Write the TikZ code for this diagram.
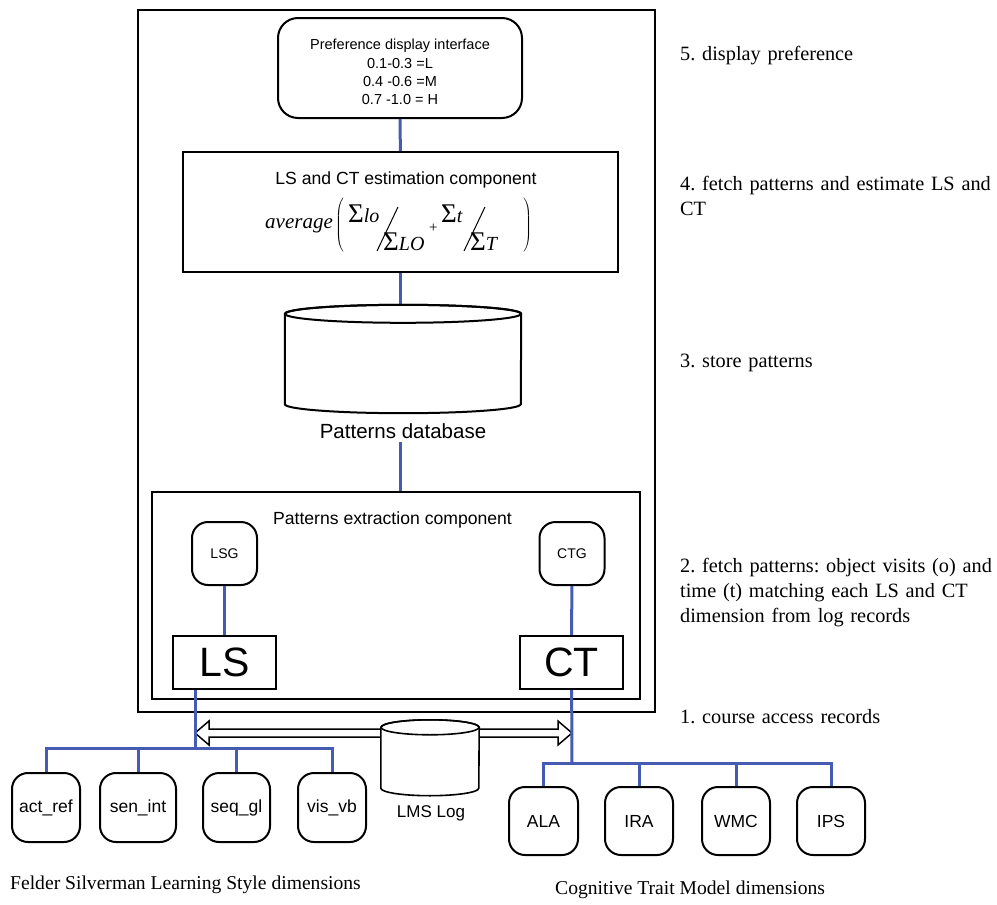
\documentclass[tikz,border=0pt]{standalone}
\usepackage{fontspec}
\setmainfont{Liberation Serif}
\setsansfont{Liberation Sans}
\usetikzlibrary{positioning}

\definecolor{linkblue}{RGB}{70,92,178}

\newcommand{\sumsign}{{\upshape\fontsize{27}{27}\selectfont Σ}}

\tikzset{
	frame/.style={draw, line width=2pt, inner sep=0pt},
	rframe/.style={frame, rounded corners=16pt},
	sans/.style={font=\sffamily\fontsize{#1}{#1}\selectfont},
	dimbox/.style={rframe, minimum height=69pt, sans=17.5},
	link/.style={draw=linkblue, line width=3pt},
	hollow/.style={draw, line width=1.5pt, fill=white, line join=miter},
	term/.style={anchor=base west, inner sep=0pt, font=\fontsize{20}{20}\selectfont\itshape},
	fracbar/.style={draw, line width=1pt},
	note/.style={anchor=base west, align=left, text width=330pt, inner sep=0pt, font=\frenchspacing\fontsize{20.3}{25}\selectfont},
	caption/.style={anchor=base west, inner sep=0pt, font=\fontsize{19.6}{22}\selectfont},
}

\begin{document}
\begin{tikzpicture}[x=1pt, y=-1pt]
	\useasboundingbox (0,0) rectangle (997,905);

	\node[frame, line width=2.4pt, minimum width=517pt, minimum height=702pt] (system) at (396.5,361) {};
	\node[rframe, rounded corners=20pt, minimum width=244pt, minimum height=100pt] (pref) at (400,68) {};
	\node[align=center, font=\sffamily\fontsize{14.5}{18.2}\selectfont] (preftext) at (400,72) {Preference display interface\\0.1-0.3 =L\\0.4 -0.6 =M\\0.7 -1.0 = H};
	\node[frame, minimum width=435pt, minimum height=120pt] (est) at (400.5,212) {};
	\node[sans=17.6] (esttitle) at (406,180) {LS and CT estimation component};

	\node[term, font=\fontsize{21}{21}\selectfont\itshape] (avg) at (265,228) {average};
	\node[anchor=base west, inner sep=0pt] (lpar) at (335,228) {$\left(\vrule height 31pt depth 25pt width 0pt\right.$};
	\node[term] (lo) at (348,222) {\sumsign lo};
	\node[term] (LO) at (383,250) {\sumsign LO};
	\node[anchor=base west, inner sep=0pt, font=\fontsize{15}{15}\selectfont] (plus) at (429,232) {+};
	\node[term] (t) at (441,222) {\sumsign t};
	\node[term] (T) at (470,250) {\sumsign T};
	\node[anchor=base west, inner sep=0pt] (rpar) at (522,228) {$\left.\vrule height 31pt depth 25pt width 0pt\right)$};
	\draw[fracbar] (398,207) -- (377,251);
	\draw[fracbar] (485,207) -- (464,251);

	\node[minimum width=236pt, minimum height=90pt] (db) at (403,359) {};
	\node[sans=20.5, below=16pt of db] (dblabel) {Patterns database};
	\node[frame, minimum width=488pt, minimum height=207pt] (pext) at (396,595.5) {};
	\node[sans=17.6] (pexttitle) at (392.5,520) {Patterns extraction component};
	\node[rframe, minimum width=65pt, minimum height=63pt, sans=14] (lsg) at (224.5,553.5) {LSG};
	\node[rframe, minimum width=65pt, minimum height=63pt, sans=14] (ctg) at (572,553.5) {CTG};
	\node[frame, minimum width=103pt, minimum height=53pt, sans=41] (ls) at (224.5,662.5) {LS};
	\node[frame, minimum width=103pt, minimum height=53pt, sans=41] (ct) at (571.5,662.5) {CT};

	\node[dimbox, minimum width=68pt] (act) at (46,807.5) {act\_ref};
	\node[dimbox, minimum width=76pt] (sen) at (138,807.5) {sen\_int};
	\node[dimbox, minimum width=67pt] (seq) at (236.5,807.5) {seq\_gl};
	\node[dimbox, minimum width=68pt] (vis) at (332,807.5) {vis\_vb};
	\node[dimbox, minimum width=69pt, minimum height=68pt] (ala) at (543.5,821) {ALA};
	\node[dimbox, minimum width=68pt, minimum height=68pt] (ira) at (639,821) {IRA};
	\node[dimbox, minimum width=68pt, minimum height=68pt] (wmc) at (736,821) {WMC};
	\node[dimbox, minimum width=68pt, minimum height=68pt] (ips) at (831,821) {IPS};
	\node[minimum width=98pt, minimum height=60.5pt] (log) at (430,757.75) {};
	\node[sans=17] (loglabel) at (431,813) {LMS Log};

	\coordinate (lsbus) at (195,748);
	\coordinate (ctbus) at (572,763);

	\draw[link] (pref) -- (est);
	\draw[link] (est) -- (est.south |- db.north);
	\draw[link] (est.south |- dblabel.south) -- (est.south |- pext.north);
	\draw[link] (lsg) -- (ls);
	\draw[link] (ctg) -- (ct);

	\draw[frame, fill=white] (db.north west) -- (db.south west) arc[start angle=180, end angle=360, x radius=118pt, y radius=9pt] -- (db.north east) arc[start angle=0, end angle=180, x radius=118pt, y radius=9pt] -- cycle;
	\draw[frame] (db.north) ellipse[x radius=118pt, y radius=9pt];

	\draw[hollow] (381,729) -- (209,729) -- (209,721) -- (195,733) -- (209,745) -- (209,737) -- (381,737);
	\draw[hollow] (479,729) -- (558,729) -- (558,721) -- (572,733) -- (558,745) -- (558,737) -- (479,737);
	\draw[frame, line width=1.6pt, fill=white] (log.north west) -- (log.south west) arc[start angle=180, end angle=360, x radius=49pt, y radius=7.5pt] -- (log.north east) arc[start angle=0, end angle=180, x radius=49pt, y radius=7.5pt] -- cycle;
	\draw[frame, line width=1.6pt] (log.north) ellipse[x radius=49pt, y radius=7.5pt];

	\draw[link] (ls.south -| lsbus) -- (lsbus);
	\draw[link] (act.north) |- (lsbus -| vis.north) -- (vis.north);
	\foreach \trait in {sen,seq}
		\draw[link] (\trait.north) -- (\trait.north |- lsbus);
	\draw[link] (ct) -- (ctbus);
	\draw[link] (ala.north) |- (ctbus -| ips.north) -- (ips.north);
	\foreach \trait in {ira,wmc}
		\draw[link] (\trait.north) -- (\trait.north |- ctbus);

	\node[note] (step5) at (680,60) {5. display preference};
	\node[note] (step4) at (680,190) {4. fetch patterns and estimate LS and\\CT};
	\node[note] (step3) at (680,367) {3. store patterns};
	\node[note] (step2) at (680,572) {2. fetch patterns: object visits (o) and\\time (t) matching each LS and CT\\dimension from log records};
	\node[note] (step1) at (680,723) {1. course access records};
	\node[caption] (fslsd) at (10,889) {Felder Silverman Learning Style dimensions};
	\node[caption] (ctmd) at (555,894) {Cognitive Trait Model dimensions};
\end{tikzpicture}
\end{document}
